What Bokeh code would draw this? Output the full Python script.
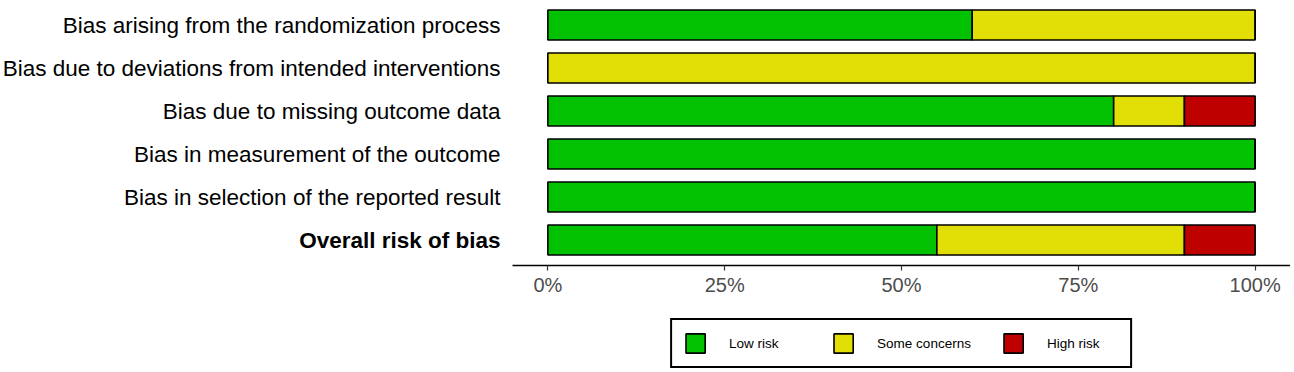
from bokeh.plotting import figure
from bokeh.layouts import row, column
from bokeh.models import Range1d, Legend, LegendItem, FixedTicker, ColumnDataSource
from bokeh.core.properties import value
from bokeh.embed import file_html
from bokeh.resources import INLINE

domains = [
    "Bias arising from the randomization process",
    "Bias due to deviations from intended interventions",
    "Bias due to missing outcome data",
    "Bias in measurement of the outcome",
    "Bias in selection of the reported result",
    "Overall risk of bias",
]
low_risk = [60, 0, 80, 100, 100, 55]
some_concerns = [40, 100, 10, 0, 0, 35]
high_risk = [0, 0, 10, 0, 0, 10]
levels = ["Low risk", "Some concerns", "High risk"]
colors = ["#02C100", "#E2DF07", "#BF0000"]
tick_values = [0, 25, 50, 75, 100]
tick_labels = ["0%", "25%", "50%", "75%", "100%"]

rows = list(range(1, len(domains) + 1))
styles = ["bold" if d == "Overall risk of bias" else "normal" for d in domains]
source = ColumnDataSource(dict(row=rows, low=low_risk, some=some_concerns, high=high_risk,
                               name=domains, style=styles))

y_range = Range1d(6.593, 0.616)

# left panel: domain labels
left = figure(
    output_backend="svg", toolbar_location=None,
    frame_width=511, frame_height=257,
    min_border_left=0, min_border_right=0, min_border_top=8, min_border_bottom=0,
    x_range=Range1d(0, 511), y_range=y_range,
    x_axis_location=None, y_axis_location=None,
)
left.outline_line_color = None
left.xgrid.visible = False
left.ygrid.visible = False
left.text(x=500, y="row", text="name", source=source,
          text_align="right", text_baseline="middle",
          text_font=value("Liberation Sans"), text_font_size="22.5px",
          text_font_style="style", text_color="black")

# right panel: stacked bars
p = figure(
    output_backend="svg", toolbar_location=None,
    frame_width=778, frame_height=257,
    min_border_left=1, min_border_right=0, min_border_top=8, min_border_bottom=0,
    x_range=Range1d(-5, 105), y_range=y_range,
    y_axis_location=None,
)
p.outline_line_color = None
p.xgrid.visible = False
p.ygrid.visible = False

p.hbar_stack(["low", "some", "high"], y="row", height=0.7, source=source,
             fill_color=colors, line_color="black", line_width=1.6)

xa = p.xaxis[0]
xa.ticker = FixedTicker(ticks=tick_values)
xa.major_label_overrides = {v: l for v, l in zip(tick_values, tick_labels)}
xa.minor_tick_line_color = None
xa.major_tick_in = 0
xa.major_tick_out = 5
xa.major_tick_line_color = "#333333"
xa.major_tick_line_width = 1.2
xa.axis_line_color = "black"
xa.axis_line_width = 1.6
xa.major_label_text_font = "Liberation Sans"
xa.major_label_text_font_size = "20px"
xa.major_label_text_color = "#4D4D4D"
xa.major_label_standoff = 3

# legend panel below the bars (swatch renderers hold one off-view point each)
lf = figure(
    output_backend="svg", toolbar_location=None,
    frame_width=778, frame_height=74,
    min_border_left=512, min_border_right=0, min_border_top=0, min_border_bottom=0,
    x_range=Range1d(0, 1), y_range=Range1d(0, 1),
    x_axis_location=None, y_axis_location=None,
)
lf.outline_line_color = None
lf.xgrid.visible = False
lf.ygrid.visible = False
swatches = [lf.hbar(y=[-5], right=[0], height=1, fill_color=c, line_color="black", line_width=1.6)
            for c in colors]

legend = Legend(
    items=[LegendItem(label=lv, renderers=[rr]) for lv, rr in zip(levels, swatches)],
    orientation="horizontal", location="top_center",
    glyph_width=24, glyph_height=24, label_standoff=22, label_width=72,
    label_height=20,
    spacing=30, padding=11, margin=20,
    label_text_font="Liberation Sans", label_text_font_size="13.5px",
    label_text_color="black",
    border_line_color="black", border_line_width=2, border_line_alpha=1.0,
    background_fill_color="white", background_fill_alpha=1.0,
)
lf.add_layout(legend, "center")

layout = column(row(left, p, spacing=0), lf, spacing=0)
open("out.html", "w").write(file_html(layout, INLINE))
